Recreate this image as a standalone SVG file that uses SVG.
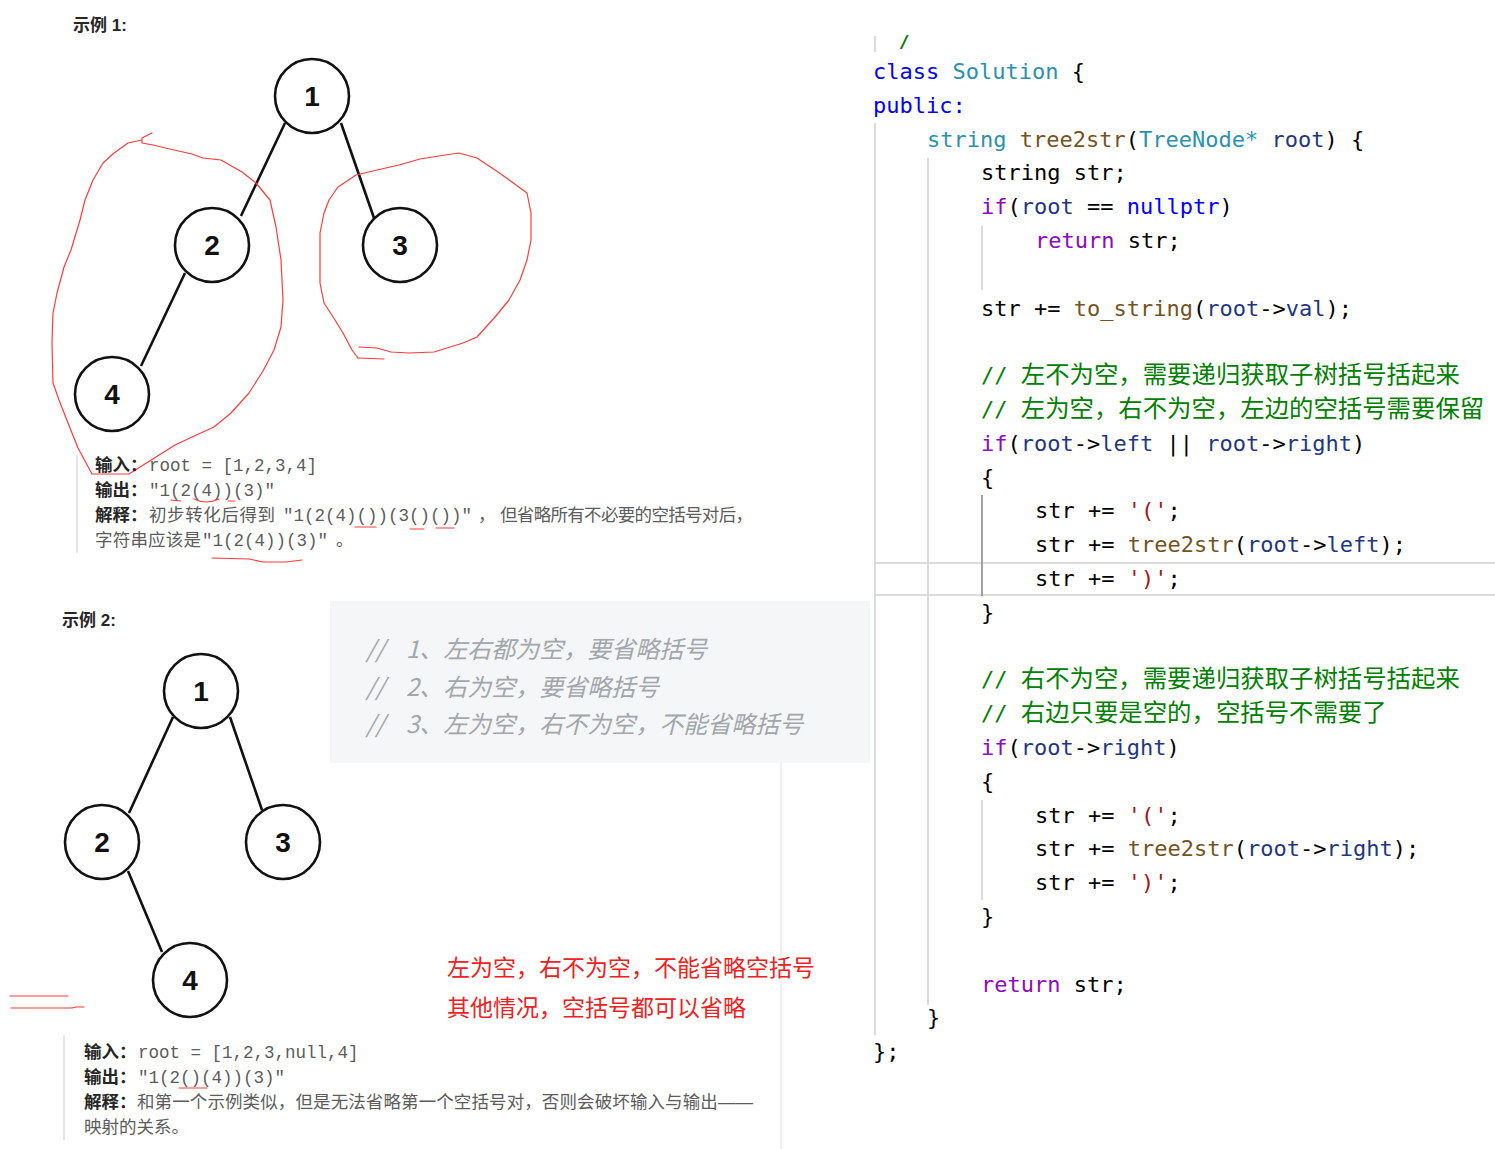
<svg xmlns="http://www.w3.org/2000/svg" width="1495" height="1149" viewBox="0 0 1495 1149">
<style>
.bg{fill:#ffffff}
.node circle{fill:#ffffff;stroke:#111111;stroke-width:2.6}
.node text{font-family:"Liberation Sans",Arial,sans-serif;font-weight:bold;font-size:28px;fill:#111111;text-anchor:middle}
.edge{stroke:#111111;stroke-width:2.6;fill:none}
.ink{stroke:#ff3b3b;stroke-width:1.2;fill:none;stroke-linecap:round;stroke-linejoin:round}
.h{font-family:"Liberation Sans","Noto Sans CJK SC",sans-serif;font-weight:bold;font-size:17px;fill:#262626}
.lbl{font-family:"Liberation Sans","Noto Sans CJK SC",sans-serif;font-weight:bold;font-size:17.5px;fill:#262626}
.body{font-family:"Liberation Sans","Noto Sans CJK SC",sans-serif;font-size:17.5px;fill:#5c5c5c}
.mono{font-family:"Liberation Mono","Noto Sans CJK SC",monospace;font-size:17.5px;fill:#5c5c5c}
.note{font-family:"Noto Sans CJK SC",sans-serif;font-size:23px;fill:#ee2222}
.cm2{font-family:"Noto Sans CJK SC",sans-serif;font-size:24px;font-style:italic;fill:#a3a6aa}
.code{font-family:"DejaVu Sans Mono","Liberation Mono",monospace;font-size:22px;fill:#000000}
.kw{fill:#0000ff}.ty{fill:#2b91af}.fn{fill:#74531f}.va{fill:#1f377f}.ct{fill:#8f08c4}.st{fill:#a31515}
.cmt{fill:#008000}
.cjk{font-family:"Noto Sans CJK SC",sans-serif;font-size:24.4px}
.guide{stroke:#d4d4d4;stroke-width:1.6}
.guide2{stroke:#8c8c8c;stroke-width:1.6}
.bar{stroke:#dcdcdc;stroke-width:2}
</style>
<defs>
<clipPath id="topclip"><rect x="860" y="35" width="100" height="14"/></clipPath>
</defs>
<rect class="bg" x="0" y="0" width="1495" height="1149"/>

<!-- Example 1 -->
<text class="h" x="73" y="31">示例 1:</text>
<g id="ex1-connectors">
<line class="edge" x1="285" y1="123" x2="241" y2="216"/>
<line class="edge" x1="341" y1="123" x2="374" y2="218"/>
<line class="edge" x1="185" y1="273" x2="141" y2="366"/>
</g>
<g id="ex1-n1" class="node"><circle cx="312" cy="96" r="37"/><text x="312" y="106">1</text></g>
<g id="ex1-n2" class="node"><circle cx="212" cy="245" r="37"/><text x="212" y="255">2</text></g>
<g id="ex1-n3" class="node"><circle cx="400" cy="245" r="37"/><text x="400" y="255">3</text></g>
<g id="ex1-n4" class="node"><circle cx="112" cy="394" r="37"/><text x="112" y="404">4</text></g>

<g id="ink1">
<path class="ink" d="M152,133 L142,138 L142,143 L153,145 L174,150 L192,154 L203,158 L221,160 L242,172 L256,183 L270,200 L276,227 L281,260 L283,300 L281,327 L274,350 L263,371 L249,393 L231,413 L214,427 L192,437 L175,445 L129,474 L92,474 L78,448 L68,423 L59,400 L53,383 L52,343 L53,313 L57,293 L64,267 L71,250 L80,220 L85,200 L93,180 L103,163 L114,153 L128,143 L142,140"/>
<path class="ink" d="M358,358 L352,350 L343,333 L335,320 L324,303 L320,283 L320,233 L324,213 L329,200 L338,187 L356,175 L377,170 L399,165 L420,159 L445,155 L459,153 L477,158 L498,172 L512,182 L527,193 L531,213 L531,240 L527,260 L520,280 L509,300 L495,317 L477,337 L463,343 L434,352 L409,353 L391,352 L377,348 L359,347"/>
<path class="ink" d="M358,358 L384,359"/>
</g>

<line x1="77" y1="455" x2="77" y2="553" stroke="#e6e6e6" stroke-width="2"/>
<text class="lbl" x="95" y="471">输入：</text>
<text class="mono" x="149" y="471">root = [1,2,3,4]</text>
<text class="lbl" x="95" y="496">输出：</text>
<text class="mono" x="149" y="496">"1(2(4))(3)"</text>
<text class="lbl" x="95" y="521">解释：</text>
<text class="body" x="149" y="521" textLength="126">初步转化后得到</text>
<text class="mono" x="283" y="521">"1(2(4)())(3()())"</text>
<text class="body" x="478" y="521">，</text>
<text class="body" x="500" y="521" textLength="253">但省略所有不必要的空括号对后，</text>
<text class="body" x="95" y="546" textLength="106">字符串应该是</text>
<text class="mono" x="202" y="546">"1(2(4))(3)"</text>
<text class="body" x="336" y="546">。</text>
<g id="ink1-under">
<path class="ink" d="M171,500 L181,501"/>
<path class="ink" d="M194,499 Q206,505 219,499"/>
<path class="ink" d="M228,501 L235,501"/>
<path class="ink" d="M355,527 L376,527"/>
<path class="ink" d="M410,529 L424,529"/>
<path class="ink" d="M436,528 L454,528"/>
<path class="ink" d="M212,558 L249,559 L263,562 L286,562 L302,560"/>
</g>

<!-- Example 2 -->
<text class="h" x="62" y="626">示例 2:</text>
<rect x="330" y="601" width="540" height="162" fill="#f5f6f7"/>
<text class="cm2" x="366" y="658">//</text><text class="cm2" x="406" y="658">1、左右都为空，要省略括号</text>
<text class="cm2" x="366" y="696">//</text><text class="cm2" x="406" y="696">2、右为空，要省略括号</text>
<text class="cm2" x="366" y="733">//</text><text class="cm2" x="406" y="733">3、左为空，右不为空，不能省略括号</text>
<line x1="781" y1="763" x2="781" y2="1149" stroke="#ececec" stroke-width="1.5"/>

<g id="ex2-connectors">
<line class="edge" x1="173" y1="717" x2="129" y2="813"/>
<line class="edge" x1="230" y1="717" x2="262" y2="810"/>
<line class="edge" x1="128" y1="871" x2="162" y2="952"/>
</g>
<g id="ex2-n1" class="node"><circle cx="201" cy="691" r="37"/><text x="201" y="701">1</text></g>
<g id="ex2-n2" class="node"><circle cx="102" cy="842" r="37"/><text x="102" y="852">2</text></g>
<g id="ex2-n3" class="node"><circle cx="283" cy="842" r="37"/><text x="283" y="852">3</text></g>
<g id="ex2-n4" class="node"><circle cx="190" cy="980" r="37"/><text x="190" y="990">4</text></g>

<g id="ink2">
<path class="ink" d="M10,996 L68,996"/>
<path class="ink" d="M11,1008 L72,1008 L76,1007 L84,1007"/>
</g>

<text class="note" x="447" y="976">左为空，右不为空，不能省略空括号</text>
<text class="note" x="447" y="1016">其他情况，空括号都可以省略</text>

<line x1="64" y1="1035" x2="64" y2="1140" stroke="#e6e6e6" stroke-width="2"/>
<text class="lbl" x="84" y="1058">输入：</text>
<text class="mono" x="138" y="1058">root = [1,2,3,null,4]</text>
<text class="lbl" x="84" y="1083">输出：</text>
<text class="mono" x="138" y="1083">"1(2()(4))(3)"</text>
<path class="ink" d="M179,1088 L207,1088"/>
<text class="lbl" x="84" y="1108">解释：</text>
<text class="body" x="137" y="1108" textLength="616">和第一个示例类似，但是无法省略第一个空括号对，否则会破坏输入与输出——</text>
<text class="body" x="84" y="1133">映射的关系。</text>

<!-- Code panel -->
<g id="code">
<line class="bar" x1="875" y1="563" x2="1495" y2="563"/>
<line class="bar" x1="875" y1="595" x2="1495" y2="595"/>
<line class="guide" x1="875" y1="36" x2="875" y2="52"/>
<line class="guide" x1="875" y1="123" x2="875" y2="1035"/>
<line class="guide" x1="928" y1="158" x2="928" y2="1005"/>
<line class="guide" x1="982" y1="226" x2="982" y2="290"/>
<line class="guide2" x1="982" y1="495" x2="982" y2="596"/>
<line class="guide" x1="982" y1="800" x2="982" y2="900"/>
<text class="code cmt" x="898" y="49" clip-path="url(#topclip)">/</text>
<text class="code" x="873" y="79"><tspan class="kw">class</tspan> <tspan class="ty">Solution</tspan> {</text>
<text class="code kw" x="873" y="113">public:</text>
<text class="code" x="927" y="147"><tspan class="ty">string</tspan> <tspan class="fn">tree2str</tspan>(<tspan class="ty">TreeNode*</tspan> <tspan class="va">root</tspan>) {</text>
<text class="code" x="981" y="180">string str;</text>
<text class="code" x="981" y="214"><tspan class="ct">if</tspan>(<tspan class="va">root</tspan> == <tspan class="kw">nullptr</tspan>)</text>
<text class="code" x="1035" y="248"><tspan class="ct">return</tspan> str;</text>
<text class="code" x="981" y="316">str += <tspan class="fn">to_string</tspan>(<tspan class="va">root</tspan>-&gt;<tspan class="va">val</tspan>);</text>
<text class="code cmt" x="981" y="383">// <tspan class="cjk">左不为空，需要递归获取子树括号括起来</tspan></text>
<text class="code cmt" x="981" y="417">// <tspan class="cjk">左为空，右不为空，左边的空括号需要保留</tspan></text>
<text class="code" x="981" y="451"><tspan class="ct">if</tspan>(<tspan class="va">root</tspan>-&gt;<tspan class="va">left</tspan> || <tspan class="va">root</tspan>-&gt;<tspan class="va">right</tspan>)</text>
<text class="code" x="981" y="485">{</text>
<text class="code" x="1035" y="518">str += <tspan class="st">'('</tspan>;</text>
<text class="code" x="1035" y="552">str += <tspan class="fn">tree2str</tspan>(<tspan class="va">root</tspan>-&gt;<tspan class="va">left</tspan>);</text>
<text class="code" x="1035" y="586">str += <tspan class="st">')'</tspan>;</text>
<text class="code" x="981" y="620">}</text>
<text class="code cmt" x="981" y="687">// <tspan class="cjk">右不为空，需要递归获取子树括号括起来</tspan></text>
<text class="code cmt" x="981" y="721">// <tspan class="cjk">右边只要是空的，空括号不需要了</tspan></text>
<text class="code" x="981" y="755"><tspan class="ct">if</tspan>(<tspan class="va">root</tspan>-&gt;<tspan class="va">right</tspan>)</text>
<text class="code" x="981" y="789">{</text>
<text class="code" x="1035" y="823">str += <tspan class="st">'('</tspan>;</text>
<text class="code" x="1035" y="856">str += <tspan class="fn">tree2str</tspan>(<tspan class="va">root</tspan>-&gt;<tspan class="va">right</tspan>);</text>
<text class="code" x="1035" y="890">str += <tspan class="st">')'</tspan>;</text>
<text class="code" x="981" y="924">}</text>
<text class="code" x="981" y="992"><tspan class="ct">return</tspan> str;</text>
<text class="code" x="927" y="1025">}</text>
<text class="code" x="873" y="1059">};</text>
</g>
</svg>
